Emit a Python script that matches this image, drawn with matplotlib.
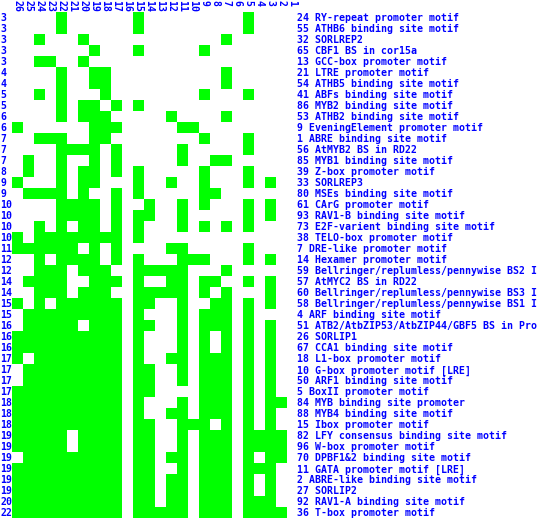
import matplotlib
matplotlib.use("Agg")
import matplotlib.pyplot as plt
import numpy as np
from matplotlib.colors import ListedColormap
from matplotlib.transforms import blended_transform_factory

# column (sequence) labels, left to right
columns = [26, 25, 24, 23, 22, 21, 20, 19, 18, 17, 16, 15, 14, 13, 12, 11, 10, 9, 8, 7, 6, 5, 4, 3, 2, 1]

# motif labels, top to bottom (as visible in the chart)
motifs = [
    "24 RY-repeat promoter motif",
    "55 ATHB6 binding site motif",
    "32 SORLREP2",
    "65 CBF1 BS in cor15a",
    "13 GCC-box promoter motif",
    "21 LTRE promoter motif",
    "54 ATHB5 binding site motif",
    "41 ABFs binding site motif",
    "86 MYB2 binding site motif",
    "53 ATHB2 binding site motif",
    "9 EveningElement promoter motif",
    "1 ABRE binding site motif",
    "56 AtMYB2 BS in RD22",
    "85 MYB1 binding site motif",
    "39 Z-box promoter motif",
    "33 SORLREP3",
    "80 MSEs binding site motif",
    "61 CArG promoter motif",
    "93 RAV1-B binding site motif",
    "73 E2F-varient binding site motif",
    "38 TELO-box promoter motif",
    "7 DRE-like promoter motif",
    "14 Hexamer promoter motif",
    "59 Bellringer/replumless/pennywise BS2 I",
    "57 AtMYC2 BS in RD22",
    "60 Bellringer/replumless/pennywise BS3 I",
    "58 Bellringer/replumless/pennywise BS1 I",
    "4 ARF binding site motif",
    "51 ATB2/AtbZIP53/AtbZIP44/GBF5 BS in Pro",
    "26 SORLIP1",
    "67 CCA1 binding site motif",
    "18 L1-box promoter motif",
    "10 G-box promoter motif [LRE]",
    "50 ARF1 binding site motif",
    "5 BoxII promoter motif",
    "84 MYB binding site promoter",
    "88 MYB4 binding site motif",
    "15 Ibox promoter motif",
    "82 LFY consensus binding site motif",
    "96 W-box promoter motif",
    "70 DPBF1&2 binding site motif",
    "11 GATA promoter motif [LRE]",
    "2 ABRE-like binding site motif",
    "27 SORLIP2",
    "92 RAV1-A binding site motif",
    "36 T-box promoter motif",
]

# columns in which each motif occurs (same order as motifs)
occurrences = [
    [22, 15, 5],
    [22, 15, 5],
    [24, 20, 7],
    [19, 15, 9],
    [24, 23, 20],
    [22, 19, 18, 7],
    [22, 19, 18, 7],
    [24, 22, 18, 9, 5],
    [22, 20, 19, 17, 15],
    [22, 20, 19, 18, 12, 7],
    [26, 19, 18, 17, 11, 10],
    [24, 23, 22, 19, 18, 9, 5],
    [22, 21, 20, 19, 17, 11, 5],
    [25, 22, 19, 17, 11, 8, 7],
    [25, 22, 20, 19, 17, 15, 9, 5],
    [26, 22, 20, 19, 15, 12, 9, 5, 3],
    [25, 24, 23, 22, 20, 17, 15, 9, 8],
    [22, 21, 20, 19, 17, 14, 11, 9, 5, 3],
    [22, 21, 20, 19, 17, 15, 14, 11, 5, 3],
    [24, 22, 20, 19, 17, 15, 11, 9, 7, 5],
    [26, 24, 23, 22, 21, 20, 19, 18, 17, 15],
    [26, 25, 24, 23, 22, 21, 19, 17, 12, 11, 5],
    [24, 22, 21, 20, 19, 17, 15, 11, 10, 9, 5, 3],
    [24, 23, 22, 20, 19, 18, 15, 14, 13, 12, 11, 7],
    [25, 24, 23, 22, 19, 18, 17, 15, 12, 11, 9, 8, 5, 3],
    [24, 23, 22, 20, 19, 18, 15, 14, 13, 12, 11, 9, 7, 3],
    [26, 24, 22, 21, 20, 19, 18, 17, 15, 14, 11, 8, 7, 5, 3],
    [25, 24, 23, 22, 21, 20, 19, 18, 17, 15, 11, 9, 8, 7, 5],
    [25, 24, 23, 22, 21, 19, 18, 17, 15, 14, 11, 9, 8, 7, 5, 3],
    [26, 25, 24, 23, 22, 21, 20, 19, 18, 17, 15, 11, 9, 7, 5, 3],
    [26, 25, 24, 23, 22, 21, 20, 19, 18, 17, 15, 11, 9, 7, 5, 3],
    [26, 24, 23, 22, 21, 20, 19, 18, 17, 15, 12, 11, 9, 8, 7, 5, 3],
    [25, 24, 23, 22, 21, 20, 19, 18, 17, 15, 14, 11, 9, 8, 7, 5, 3],
    [25, 24, 23, 22, 21, 20, 19, 18, 17, 15, 14, 11, 9, 8, 7, 5, 3],
    [26, 25, 24, 23, 22, 21, 20, 19, 18, 17, 15, 14, 9, 8, 7, 5, 3],
    [26, 25, 24, 23, 22, 21, 20, 19, 18, 17, 15, 11, 9, 8, 7, 5, 3, 2],
    [26, 25, 24, 23, 22, 21, 20, 19, 18, 17, 15, 12, 11, 9, 8, 7, 5, 3],
    [26, 25, 24, 23, 22, 21, 20, 19, 18, 17, 15, 14, 11, 10, 9, 7, 5, 3],
    [26, 25, 24, 23, 22, 20, 19, 18, 17, 15, 14, 11, 9, 8, 7, 5, 4, 3, 2],
    [26, 25, 24, 23, 22, 20, 19, 18, 17, 15, 14, 11, 9, 8, 7, 5, 4, 3, 2],
    [25, 24, 23, 22, 21, 20, 19, 18, 17, 15, 14, 12, 11, 9, 8, 7, 5, 3, 2],
    [26, 25, 24, 23, 22, 21, 20, 19, 18, 17, 15, 14, 11, 9, 8, 7, 5, 4, 3],
    [26, 25, 24, 23, 22, 21, 20, 19, 18, 17, 15, 14, 12, 11, 9, 8, 7, 5, 3],
    [26, 25, 24, 23, 22, 21, 20, 19, 18, 17, 15, 14, 12, 11, 9, 8, 7, 5, 3],
    [26, 25, 24, 23, 22, 21, 20, 19, 18, 17, 15, 14, 12, 11, 9, 8, 7, 5, 4, 3],
    [26, 25, 24, 23, 22, 21, 20, 19, 18, 17, 15, 14, 13, 12, 11, 9, 8, 7, 5, 4, 3, 2],
]

W, H = 538, 518
nrows, ncols = len(motifs), len(columns)
M = np.array([[1 if c in occ else 0 for c in columns] for occ in occurrences])
counts = M.sum(axis=1)

fig = plt.figure(figsize=(W / 100, H / 100), dpi=100)
fig.patch.set_facecolor("white")
x0, x1 = 12, 12 + 11 * ncols
top = 12
ax = fig.add_axes([x0 / W, 0, (x1 - x0) / W, (H - top) / H])
cmap = ListedColormap(["#ffffff", "#00ff00"])
ax.imshow(M, cmap=cmap, vmin=0, vmax=1, aspect="auto", interpolation="nearest",
          extent=[-0.5, ncols - 0.5, nrows - 0.5, -0.5])
ax.set_xlim(-0.5, ncols - 0.5)
ax.set_ylim(nrows - 0.5, -0.5)
ax.axis("off")

blue = "#0000ff"
font = dict(family="DejaVu Sans Mono", fontweight="bold", fontsize=7.1, color=blue)

tr_rows = blended_transform_factory(fig.transFigure, ax.transData)
for r in range(nrows):
    ax.text(0.3 / W, r + 0.08, str(counts[r]), transform=tr_rows, ha="left", va="center", **font)
    ax.text(297 / W, r + 0.08, motifs[r], transform=tr_rows, ha="left", va="center",
            clip_on=False, **font)

tr_cols = blended_transform_factory(ax.transData, fig.transFigure)
for i, c in enumerate(columns):
    ax.text(i, 1.0, str(c), transform=tr_cols, ha="center", va="top", rotation=270, **font)

fig.savefig("out.png", dpi=100, facecolor="white")
